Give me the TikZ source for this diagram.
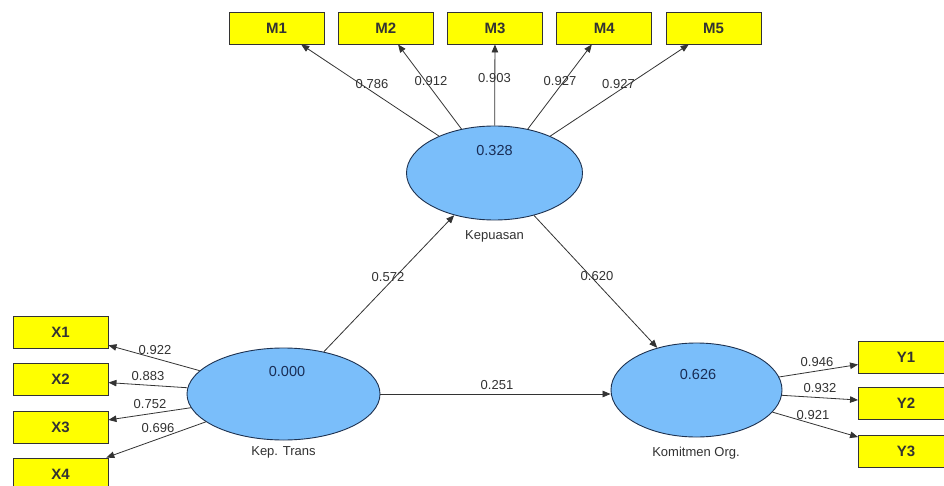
\documentclass[tikz,border=0pt]{standalone}
\usepackage{fontspec}
\setmainfont{Liberation Sans}
\usetikzlibrary{shapes.geometric,arrows.meta}
\definecolor{boxyellow}{RGB}{255,255,0}
\definecolor{latblue}{RGB}{122,190,250}
\definecolor{latedge}{RGB}{30,50,80}
\definecolor{valtext}{RGB}{25,45,85}
\definecolor{lbltext}{RGB}{50,50,50}
\tikzset{
  ind/.style={rectangle,draw=black!80,line width=0.9pt,fill=boxyellow,minimum width=95pt,minimum height=32pt,inner sep=0pt,font=\fontsize{15}{17}\selectfont\bfseries,text=black!80},
  lat/.style={ellipse,draw=latedge,line width=0.9pt,fill=latblue,inner sep=0pt},
  arr/.style={-{Triangle[length=8pt,width=6.5pt]},line width=0.8pt,draw=black!80},
  lbl/.style={font=\fontsize{13}{15}\selectfont,text=lbltext,inner sep=0pt},
  val/.style={font=\fontsize{14.5}{16}\selectfont,text=valtext,inner sep=0pt},
  nm/.style={font=\fontsize{13}{15}\selectfont,text=lbltext,inner sep=0pt}
}
\begin{document}
\begin{tikzpicture}[x=1pt,y=-1pt]
\clip (0,0) rectangle (944,486);
\fill[white] (0,0) rectangle (944,486);
% indicators
\node[ind] (m1) at (276.5,28) {M1};
\node[ind] (m2) at (385.75,28) {M2};
\node[ind] (m3) at (495,28) {M3};
\node[ind] (m4) at (604.25,28) {M4};
\node[ind] (m5) at (713.5,28) {M5};
\node[ind] (x1) at (60.5,332) {X1};
\node[ind] (x2) at (60.5,379.5) {X2};
\node[ind] (x3) at (60.5,427) {X3};
\node[ind] (x4) at (60.5,474) {X4};
\node[ind] (y1) at (906,357) {Y1};
\node[ind] (y2) at (906,403) {Y2};
\node[ind] (y3) at (906,451) {Y3};
% latent
\node[lat,minimum width=176pt,minimum height=94pt] (kp) at (494.5,173) {};
\node[lat,minimum width=193pt,minimum height=92pt] (kt) at (283.5,394) {};
\node[lat,minimum width=171pt,minimum height=94pt] (ko) at (696.5,390) {};
\node[val] (vkp) at (494.5,151) {0.328};
\node[val] (vkt) at (287,372) {0.000};
\node[val] (vko) at (698,375) {0.626};
\node[nm] (nkp) at (494.5,236) {Kepuasan};
\node[nm] (nkt) at (283.5,452) {Kep. Trans};
\node[nm] (nko) at (696,453) {Komitmen Org.};
% connectors
\foreach \t in {m1,m2,m3,m4,m5} \draw[arr] (kp) -- (\t);
\foreach \t in {x1,x2,x3,x4} \draw[arr] (kt) -- (\t);
\foreach \t in {y1,y2,y3} \draw[arr] (ko) -- (\t);
\draw[arr] (kt) -- (kp);
\draw[arr] (kp) -- (ko);
\draw[arr] (kt.east) -- (ko.west |- kt.east);
% loadings
\node[lbl] (l1) at (372,84.5) {0.786};
\node[lbl] (l2) at (431,81) {0.912};
\node[lbl] (l3) at (494.5,78.5) {0.903};
\node[lbl] (l4) at (560,81) {0.927};
\node[lbl] (l5) at (618.5,84) {0.927};
\node[lbl] (lx1) at (155,350) {0.922};
\node[lbl] (lx2) at (148,376.5) {0.883};
\node[lbl] (lx3) at (150,404) {0.752};
\node[lbl] (lx4) at (158,428) {0.696};
\node[lbl] (ly1) at (817,362) {0.946};
\node[lbl] (ly2) at (820,388) {0.932};
\node[lbl] (ly3) at (813,415) {0.921};
\node[lbl] (p1) at (388,277) {0.572};
\node[lbl] (p2) at (597,276) {0.620};
\node[lbl] (p3) at (497,385) {0.251};
\end{tikzpicture}
\end{document}
